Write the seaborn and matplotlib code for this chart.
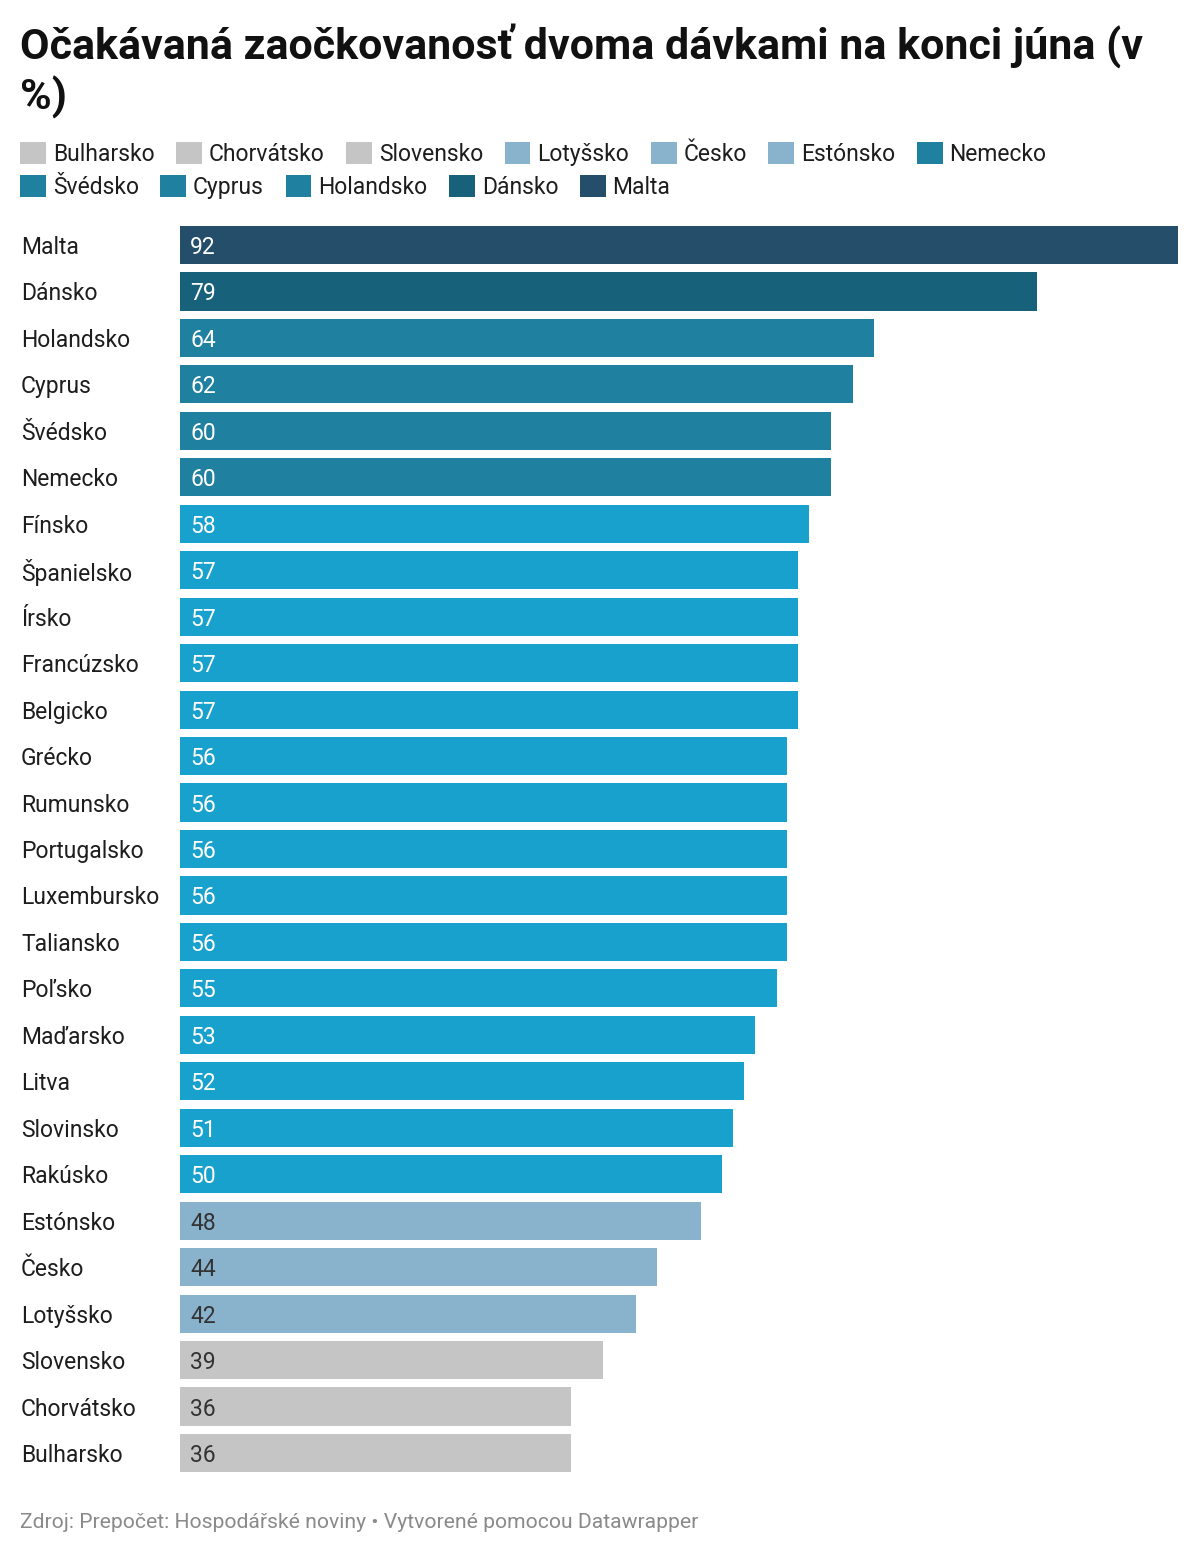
import matplotlib
matplotlib.use("Agg")
import matplotlib.pyplot as plt
import seaborn as sns
import pandas as pd
from matplotlib.patches import Patch

# data (top to bottom)
countries = ["Malta", "Dánsko", "Holandsko", "Cyprus", "Švédsko", "Nemecko", "Fínsko",
             "Španielsko", "Írsko", "Francúzsko", "Belgicko", "Grécko", "Rumunsko",
             "Portugalsko", "Luxembursko", "Taliansko", "Poľsko", "Maďarsko", "Litva",
             "Slovinsko", "Rakúsko", "Estónsko", "Česko", "Lotyšsko", "Slovensko",
             "Chorvátsko", "Bulharsko"]
values = [92, 79, 64, 62, 60, 60, 58, 57, 57, 57, 57, 56, 56, 56, 56, 56, 55, 53, 52,
          51, 50, 48, 44, 42, 39, 36, 36]

legend_row1 = ["Bulharsko", "Chorvátsko", "Slovensko", "Lotyšsko", "Česko", "Estónsko", "Nemecko"]
legend_row2 = ["Švédsko", "Cyprus", "Holandsko", "Dánsko", "Malta"]

c_malta = "#244e6a"
c_dansko = "#17617a"
c_mid = "#1f80a0"
c_default = "#18a1cd"
c_light = "#89b2cc"
c_grey = "#c5c5c5"

special = {"Malta": c_malta, "Dánsko": c_dansko,
           "Holandsko": c_mid, "Cyprus": c_mid, "Švédsko": c_mid, "Nemecko": c_mid,
           "Estónsko": c_light, "Česko": c_light, "Lotyšsko": c_light,
           "Slovensko": c_grey, "Chorvátsko": c_grey, "Bulharsko": c_grey}
palette = {c: special.get(c, c_default) for c in countries}

df = pd.DataFrame({"krajina": countries, "hodnota": values})

sns.set_style("white")
plt.rcParams["font.family"] = ["Roboto", "DejaVu Sans"]

W, H = 1200, 1556
fs = 16.5
fig = plt.figure(figsize=(W / 100, H / 100), dpi=100)
ax = fig.add_axes([180 / W, 1 - 1476.2 / H, (1178 - 180) / W, (1476.2 - 221.8) / H])

sns.barplot(data=df, y="krajina", x="hodnota", hue="krajina", palette=palette,
            legend=False, width=0.82, saturation=1, linewidth=0, ax=ax)

ax.set_xlim(0, 92)
ax.set_ylim(len(countries) - 0.5, -0.5)
ax.set_xlabel("")
ax.set_ylabel("")
ax.set_xticks([])
sns.despine(ax=ax, left=True, bottom=True)
ax.tick_params(axis="y", length=0, pad=(180 - 21) * 0.72, labelsize=fs, labelcolor="#1d1d1d")
for lab in ax.get_yticklabels():
    lab.set_ha("left")

# value labels inside bars
for i, (c, v) in enumerate(zip(countries, values)):
    col = "#333333" if palette[c] in (c_light, c_grey) else "white"
    ax.annotate(str(v), xy=(0, i), xytext=(7.2, 0), textcoords="offset points",
                va="center_baseline", ha="left", fontsize=fs, color=col)

# title
fig.text(20 / W, 1 - 24 / H, "Očakávaná zaočkovanosť dvoma dávkami na konci júna (v\n%)",
         ha="left", va="top", fontsize=31, fontweight="bold", color="#111111",
         linespacing=1.2)

# legend, two rows
for names, ypx in [(legend_row1, 154), (legend_row2, 187)]:
    handles = [Patch(facecolor=palette[n], edgecolor="none", label=n) for n in names]
    fig.legend(handles=handles, loc="center left", bbox_to_anchor=(20 / W, 1 - ypx / H),
               ncol=len(names), frameon=False, fontsize=fs, borderpad=0, borderaxespad=0,
               handlelength=1.13, handleheight=1.13, handletextpad=0.3,
               columnspacing=0.94, labelcolor="#1d1d1d")

# footer
fig.text(20 / W, 1 - 1523 / H, "Zdroj: Prepočet: Hospodářské noviny • Vytvorené pomocou Datawrapper",
         ha="left", va="center", fontsize=15.2, color="#8a8a8a")

fig.savefig("out.png", dpi=100)
